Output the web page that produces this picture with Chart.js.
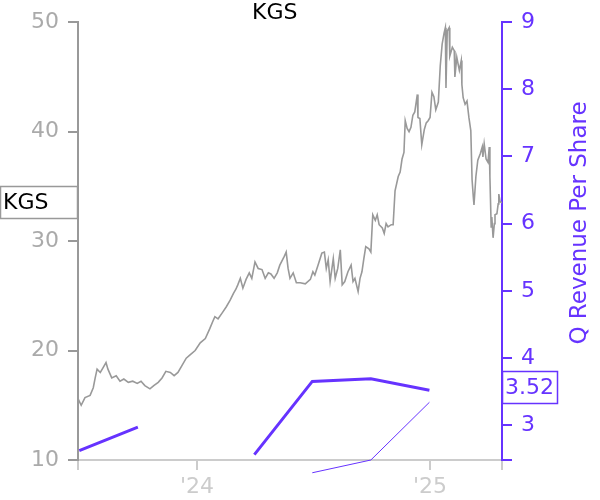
<!DOCTYPE html>
<html>
<head>
<meta charset="utf-8">
<script src="https://cdn.jsdelivr.net/npm/chart.js@4"></script>
<style>
  body { margin: 0; background: #fff; }
  canvas { display: block; }
</style>
</head>
<body>
<canvas id="kgsChart" width="600" height="500"></canvas>
<script>
const priceDates = [
  '2023-06-28','2023-07-03','2023-07-09','2023-07-17','2023-07-22','2023-07-25','2023-07-28','2023-08-02',
  '2023-08-06','2023-08-11','2023-08-14','2023-08-20','2023-08-27','2023-09-02','2023-09-08','2023-09-15',
  '2023-09-22','2023-09-29','2023-10-05','2023-10-11','2023-10-19','2023-10-25','2023-11-01','2023-11-07',
  '2023-11-13','2023-11-20','2023-11-26','2023-12-02','2023-12-08','2023-12-15','2023-12-21','2023-12-29',
  '2024-01-06','2024-01-14','2024-01-21','2024-01-26','2024-01-29','2024-02-03','2024-02-09','2024-02-16',
  '2024-02-22','2024-02-27','2024-03-02','2024-03-05','2024-03-09','2024-03-13','2024-03-18','2024-03-23',
  '2024-03-27','2024-04-01','2024-04-06','2024-04-12','2024-04-17','2024-04-22','2024-04-26','2024-05-01',
  '2024-05-06','2024-05-10','2024-05-17','2024-05-20','2024-05-23','2024-05-26','2024-05-31','2024-06-05',
  '2024-06-11','2024-06-19','2024-06-27','2024-07-01','2024-07-04','2024-07-09','2024-07-15','2024-07-19',
  '2024-07-22','2024-07-25','2024-07-28','2024-08-02','2024-08-05','2024-08-09','2024-08-13','2024-08-16',
  '2024-08-20','2024-08-25','2024-08-30','2024-09-02','2024-09-05','2024-09-10','2024-09-13','2024-09-16',
  '2024-09-19','2024-09-22','2024-09-27','2024-09-30','2024-10-03','2024-10-07','2024-10-10','2024-10-13',
  '2024-10-18','2024-10-21','2024-10-24','2024-10-27','2024-11-01','2024-11-04','2024-11-07','2024-11-12',
  '2024-11-15','2024-11-18','2024-11-21','2024-11-23','2024-11-26','2024-11-29','2024-12-02','2024-12-05',
  '2024-12-08','2024-12-12','2024-12-13','2024-12-16','2024-12-19','2024-12-23','2024-12-26','2024-12-29',
  '2025-01-01','2025-01-04','2025-01-07','2025-01-10','2025-01-14','2025-01-17','2025-01-20','2025-01-23',
  '2025-01-25','2025-01-26','2025-01-28','2025-01-31','2025-02-01','2025-02-05','2025-02-08','2025-02-09',
  '2025-02-12','2025-02-16','2025-02-19','2025-02-20','2025-02-22','2025-02-25','2025-02-28','2025-03-03',
  '2025-03-06','2025-03-08','2025-03-10','2025-03-11','2025-03-14','2025-03-17','2025-03-21','2025-03-24',
  '2025-03-25','2025-03-27','2025-03-30','2025-04-02','2025-04-04','2025-04-05','2025-04-07','2025-04-08',
  '2025-04-10','2025-04-12','2025-04-13','2025-04-16','2025-04-18','2025-04-19','2025-04-21','2025-04-24'
];
const priceValues = [
  15.6, 15.0, 15.7, 15.9, 16.6, 17.5, 18.3, 18.0,
  18.4, 18.9, 18.3, 17.5, 17.7, 17.2, 17.4, 17.1,
  17.2, 17.0, 17.2, 16.8, 16.5, 16.8, 17.1, 17.5,
  18.1, 18.0, 17.7, 18.0, 18.6, 19.3, 19.6, 20.0,
  20.7, 21.1, 22.0, 22.7, 23.1, 22.9, 23.4, 24.0,
  24.6, 25.2, 25.6, 26.0, 26.6, 25.7, 26.5, 27.1,
  26.6, 28.1, 27.5, 27.4, 26.6, 27.1, 27.0, 26.6,
  27.1, 27.8, 28.6, 29.0, 27.5, 26.6, 27.1, 26.2,
  26.2, 26.1, 26.5, 27.2, 26.9, 27.8, 28.9, 29.0,
  27.5, 28.3, 26.3, 28.4, 26.6, 27.5, 29.2, 26.0,
  26.3, 27.2, 27.8, 26.3, 26.6, 25.4, 26.6, 27.2,
  28.4, 29.5, 29.3, 29.0, 32.4, 31.9, 32.4, 31.5,
  31.2, 30.7, 31.6, 31.3, 31.5, 31.5, 34.6, 35.9,
  36.3, 37.5, 38.1, 41.0, 40.3, 40.0, 40.4, 41.5,
  41.8, 43.4, 41.3, 41.2, 38.8, 40.2, 40.8, 41.0,
  41.3, 43.6, 43.2, 42.0, 42.7, 46.0, 48.0, 49.0,
  49.5, 44.0, 49.2, 49.5, 46.9, 47.7, 47.4, 45.0,
  46.8, 45.6, 46.5, 44.3, 43.1, 42.5, 42.8, 41.3,
  40.1, 35.6, 34.0, 33.3, 35.9, 37.4, 38.0, 38.6,
  37.7, 38.9, 37.5, 37.2, 38.6, 35.9, 31.3, 32.2,
  30.3, 31.6, 32.4, 32.5, 33.4, 34.3, 33.6, 33.5
];

const revDates = ['2023-06-30', '2023-09-30', '2023-12-31', '2024-03-31', '2024-06-30', '2024-09-30', '2024-12-31'];
const revValues = [2.62, 2.97, null, 2.56, 3.65, 3.69, 3.52];
const revThinValues = [null, null, null, null, 2.29, 2.48, 3.34];

const xStart = '2023-06-28';
const xEnd = '2025-04-24';
const yearTickDates = ['2024-01-01', '2025-01-01'];
const yearTickLabels = ["'24", "'25"];
const priceTicks = [10, 20, 30, 40, 50];
const revTicks = [3, 4, 5, 6, 7, 8, 9];
const revMin = 2.48;
const revMax = 9;

const purple = '#6633ff';
const grey = '#999999';
const lightGrey = '#cccccc';
const FONT = 'DejaVu Sans';

const toXY = (dates, vals) => dates.map((d, i) => ({ x: Date.parse(d), y: vals[i] }));

const overlayPlugin = {
  id: 'overlay',
  afterDraw(chart) {
    const ctx = chart.ctx;
    const yL = chart.scales.y;
    const yR = chart.scales.y1;
    ctx.save();

    // title
    ctx.font = '22px ' + FONT;
    ctx.fillStyle = '#000';
    ctx.textAlign = 'left';
    ctx.textBaseline = 'middle';
    ctx.fillText('KGS', 252, 13);

    // last price box on the left axis
    const lastPrice = priceValues[priceValues.length - 1];
    const py = Math.round(yL.getPixelForValue(lastPrice));
    ctx.fillStyle = '#fff';
    ctx.fillRect(0.5, py - 16.5, 77, 32);
    ctx.strokeStyle = grey;
    ctx.lineWidth = 1.5;
    ctx.strokeRect(0.5, py - 16.5, 77, 32);
    ctx.fillStyle = '#000';
    ctx.fillText('KGS', 3, py);

    // last revenue box on the right axis
    const lastRev = revValues[revValues.length - 1];
    const ry = Math.round(yR.getPixelForValue(lastRev)) - 2;
    ctx.fillStyle = '#fff';
    ctx.fillRect(502.5, ry - 16.5, 55, 32);
    ctx.strokeStyle = purple;
    ctx.strokeRect(502.5, ry - 16.5, 55, 32);
    ctx.fillStyle = purple;
    ctx.fillText(lastRev.toFixed(2), 505, ry);

    // right axis title
    ctx.translate(580, 223);
    ctx.rotate(-Math.PI / 2);
    ctx.textAlign = 'center';
    ctx.font = '23px ' + FONT;
    ctx.fillText('Q Revenue Per Share', 0, 0);
    ctx.restore();
  }
};

new Chart('kgsChart', {
  type: 'line',
  data: {
    datasets: [
      {
        data: toXY(priceDates, priceValues),
        yAxisID: 'y',
        borderColor: grey,
        borderWidth: 1.6,
        pointRadius: 0,
        tension: 0
      },
      {
        data: toXY(revDates, revValues),
        yAxisID: 'y1',
        borderColor: purple,
        borderWidth: 3,
        pointRadius: 0,
        spanGaps: false,
        tension: 0
      },
      {
        data: toXY(revDates, revThinValues),
        yAxisID: 'y1',
        borderColor: purple,
        borderWidth: 1,
        pointRadius: 0,
        spanGaps: false,
        clip: false,
        tension: 0
      }
    ]
  },
  options: {
    responsive: false,
    animation: false,
    layout: { padding: { top: 18.5, left: 0, right: 0, bottom: 0 } },
    plugins: {
      legend: { display: false },
      tooltip: { enabled: false }
    },
    scales: {
      x: {
        type: 'linear',
        min: Date.parse(xStart),
        max: Date.parse(xEnd),
        afterBuildTicks: (s) => {
          s.ticks = [xStart].concat(yearTickDates, [xEnd]).map(d => ({ value: Date.parse(d) }));
        },
        afterFit: (s) => { s.height = 40; },
        border: { display: true, color: lightGrey, width: 2 },
        grid: { drawOnChartArea: false, drawTicks: true, tickLength: 10, color: lightGrey, lineWidth: 2 },
        ticks: {
          autoSkip: false,
          maxRotation: 0,
          padding: 4,
          color: lightGrey,
          font: { family: FONT, size: 22 },
          callback: (v) => {
            const i = yearTickDates.findIndex(d => Date.parse(d) === v);
            return i >= 0 ? yearTickLabels[i] : '';
          }
        }
      },
      y: {
        position: 'left',
        min: 10,
        max: 50,
        afterBuildTicks: (s) => { s.ticks = priceTicks.map(v => ({ value: v })); },
        afterFit: (s) => { s.width = 78; },
        border: { display: true, color: grey, width: 2 },
        grid: { drawOnChartArea: false, drawTicks: true, tickLength: 10, color: grey, lineWidth: 2 },
        ticks: {
          padding: 9,
          color: '#aaaaaa',
          font: { family: FONT, size: 22 }
        }
      },
      y1: {
        position: 'right',
        min: revMin,
        max: revMax,
        afterBuildTicks: (s) => { s.ticks = [revMin].concat(revTicks).map(v => ({ value: v })); },
        afterFit: (s) => { s.width = 98; },
        border: { display: true, color: purple, width: 2 },
        grid: { drawOnChartArea: false, drawTicks: true, tickLength: 10, color: purple, lineWidth: 2 },
        ticks: {
          padding: 9,
          color: purple,
          font: { family: FONT, size: 22 },
          callback: (v) => revTicks.includes(v) ? String(v) : ''
        }
      }
    }
  },
  plugins: [overlayPlugin]
});
</script>
</body>
</html>
